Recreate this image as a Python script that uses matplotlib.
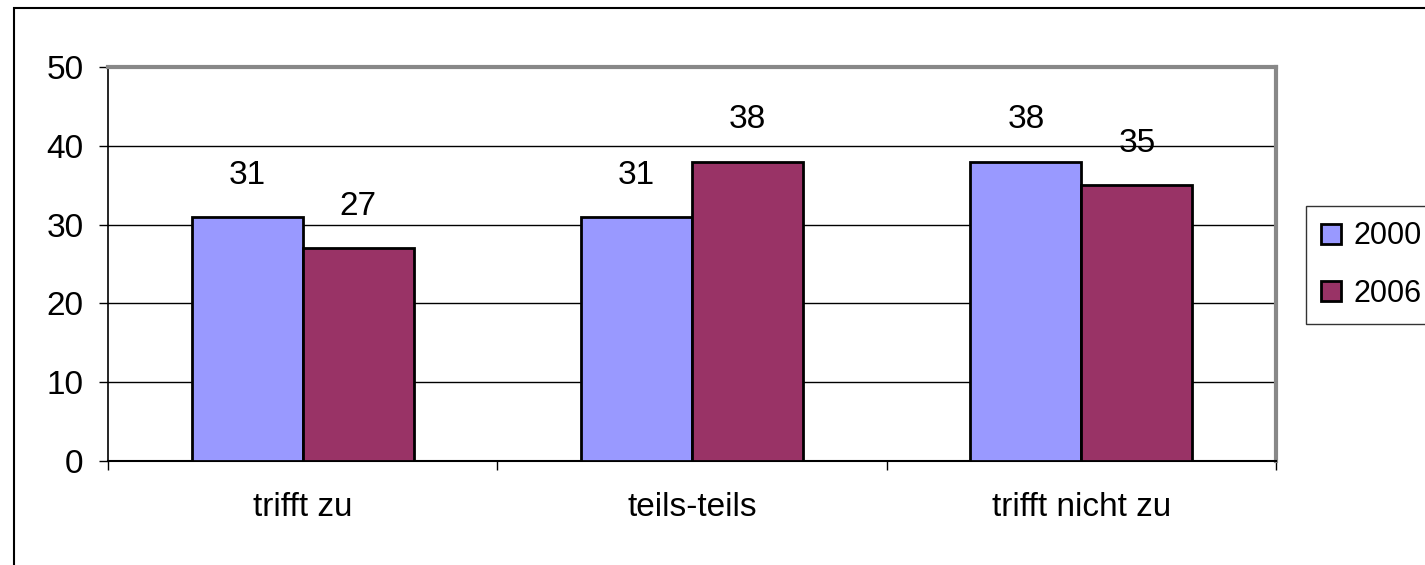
import matplotlib
matplotlib.use("Agg")
import matplotlib.pyplot as plt
from matplotlib.patches import Rectangle
import numpy as np

plt.rcParams['font.family'] = ['Liberation Sans', 'DejaVu Sans']

categories = ['trifft zu', 'teils-teils', 'trifft nicht zu']
series = ['2000', '2006']
values_2000 = [31, 31, 38]
values_2006 = [27, 38, 35]
colors = ['#9999FF', '#993366']

W, H = 1425, 565
fig = plt.figure(figsize=(W / 100, H / 100), dpi=100)

# outer chart frame (clipped at right/bottom like the original)
fig.patches.append(Rectangle((14 / W, -0.1), 1.2, 1 - 8 / H + 0.1,
                             transform=fig.transFigure, fill=False,
                             edgecolor='black', linewidth=1.5))

ax = fig.add_axes([108 / W, 1 - 461 / H, (1276 - 108) / W, (461 - 67) / H])

x = np.arange(len(categories))
bw = 0.285
for i, (vals, lab) in enumerate([(values_2000, series[0]), (values_2006, series[1])]):
    pos = x + (i - 0.5) * bw
    ax.bar(pos, vals, width=bw, color=colors[i], edgecolor='black',
           linewidth=2, label=lab, zorder=3)
    for p, v in zip(pos, vals):
        ax.annotate(str(v), (p, v), xytext=(0, 30), textcoords='offset points',
                    ha='center', va='center', fontsize=24)

ax.set_xlim(-0.5, 2.5)
ax.set_ylim(0, 50)
ax.set_yticks(range(0, 51, 10))
ax.tick_params(axis='y', labelsize=24, length=6.5, width=1, direction='out', pad=11)
ax.set_xticks([-0.5, 0.5, 1.5, 2.5])
ax.set_xticklabels([])
ax.set_xticks(x, minor=True)
ax.set_xticklabels(categories, minor=True)
ax.tick_params(axis='x', which='major', length=6.5, width=1, direction='out')
ax.tick_params(axis='x', which='minor', length=0, labelsize=24, pad=22)
ax.yaxis.grid(True, color='black', linewidth=1, zorder=0)
ax.set_axisbelow(True)

ax.spines['top'].set_color('#888888')
ax.spines['right'].set_color('#888888')
ax.spines['top'].set_linewidth(3)
ax.spines['right'].set_linewidth(3)
ax.spines['left'].set_linewidth(1.2)
ax.spines['bottom'].set_linewidth(1.5)

leg = ax.legend(loc='center left', bbox_to_anchor=(1.0257, 0.497), fontsize=22,
                frameon=True, fancybox=False, edgecolor='black',
                handlelength=0.65, handleheight=0.65, handletextpad=0.42,
                labelspacing=0.9, borderpad=0.5, borderaxespad=0)
leg.get_frame().set_linewidth(1)

fig.savefig('out.png', dpi=100)
